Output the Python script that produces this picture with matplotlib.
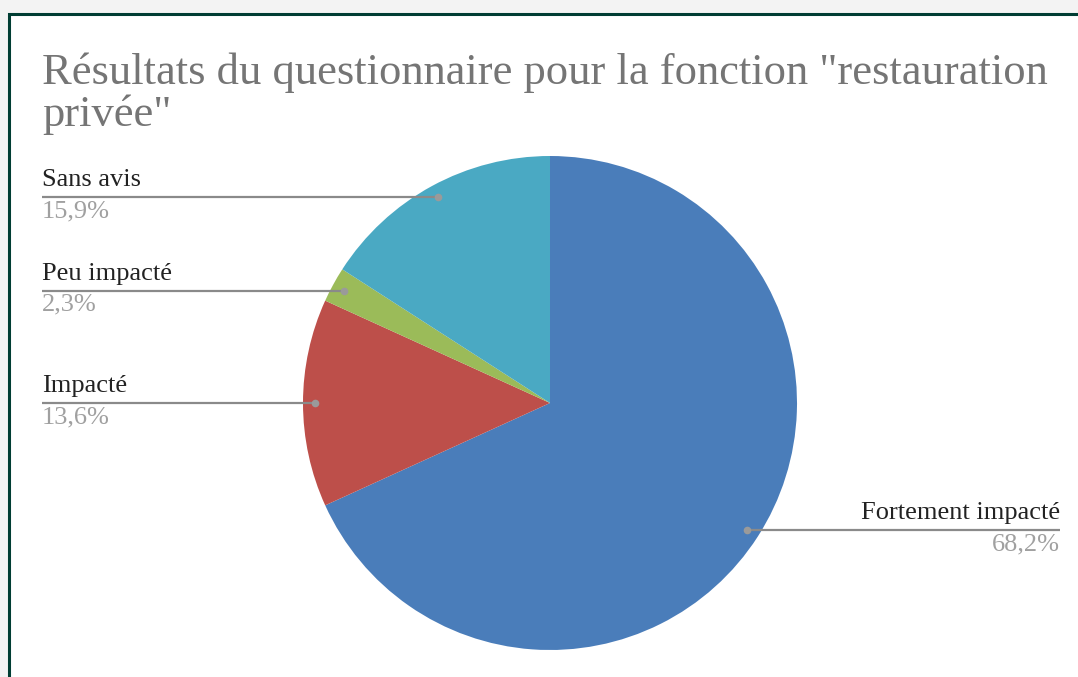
import numpy as np
import matplotlib.pyplot as plt
from matplotlib.patches import Rectangle

# Données du questionnaire
labels = ["Fortement impacté", "Impacté", "Peu impacté", "Sans avis"]
values = [68.2, 13.6, 2.3, 15.9]
pct_labels = ["68,2%", "13,6%", "2,3%", "15,9%"]
colors = ["#4a7dba", "#bd4f4a", "#9bbb59", "#4aa9c3"]

W, H = 1078, 677
fig = plt.figure(figsize=(W / 100, H / 100), dpi=100, facecolor="#f3f3f3")

# cadre blanc avec bordure verte en haut et à gauche
fig.patches.append(Rectangle((9 / W, -0.1), 1.2, (H - 13.5) / H + 0.1,
                             transform=fig.transFigure, facecolor="white",
                             edgecolor="#003d33", lw=2.2, zorder=-10))

# axes : 1 unité = rayon du camembert (247 px), centre en (550, 403)
R = 247.0
cx, cy = 550.0, H - 403.0
ax = fig.add_axes([0, 0, 1, 1], zorder=1)
ax.set_facecolor("none")
wedges, _ = ax.pie(values, colors=colors, startangle=90, counterclock=False,
                   radius=1.0, wedgeprops=dict(linewidth=0))
ax.set_xlim(-cx / R, (W - cx) / R)
ax.set_ylim(-cy / R, (H - cy) / R)
ax.set_aspect("auto")
ax.axis("off")

serif = ["Liberation Serif", "DejaVu Serif"]
x_left = (42 - cx) / R
x_right = (1060 - cx) / R

for w, lab, pct in zip(wedges, labels, pct_labels):
    mid = np.deg2rad((w.theta1 + w.theta2) / 2)
    px, py = 0.95 * np.cos(mid), 0.95 * np.sin(mid)
    if px < 0:
        xe, ha = x_left, "left"
    else:
        xe, ha = x_right, "right"
    ax.plot([px, xe], [py, py], color="#8a8a8a", lw=1.6, solid_capstyle="butt", zorder=3)
    ax.plot(px, py, "o", color="#9a9a9a", ms=5.5, mec="none", zorder=4)
    ax.text(xe, py + 6 / R, lab, ha=ha, va="bottom", fontsize=19,
            family=serif, color="#222222")
    ax.text(xe, py - 3 / R, pct, ha=ha, va="top", fontsize=19,
            family=serif, color="#a0a0a0")

fig.text(42 / W, 1 - 84 / H, 'Résultats du questionnaire pour la fonction "restauration',
         fontsize=32, family=serif, color="#757575", ha="left", va="baseline")
fig.text(42 / W, 1 - 126 / H, 'privée"',
         fontsize=32, family=serif, color="#757575", ha="left", va="baseline")

fig.savefig("out.png", dpi=100, facecolor=fig.get_facecolor())
